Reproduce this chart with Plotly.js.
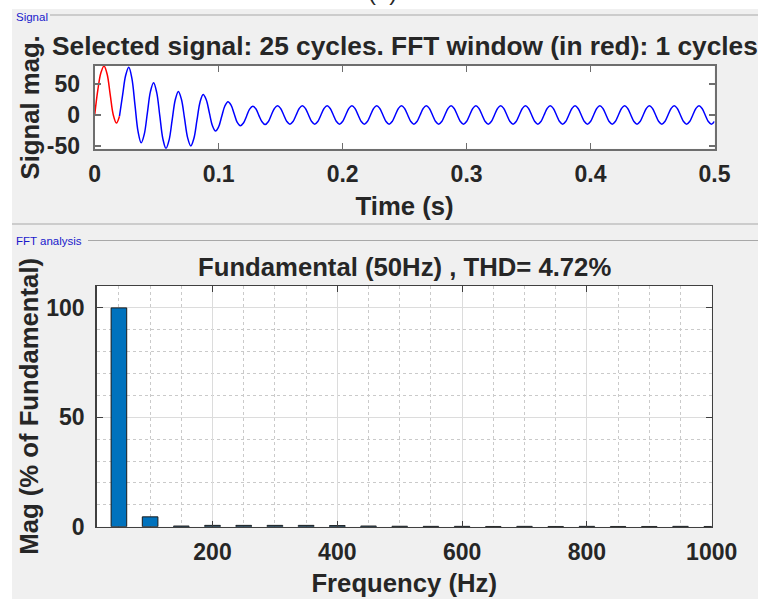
<!DOCTYPE html>
<html><head><meta charset="utf-8">
<script src="https://cdn.plot.ly/plotly-3.0.1.min.js"></script>
<style>html,body{margin:0;padding:0;background:#f0f0f0}#chart{width:758px;height:599px}</style>
</head><body><div id="chart"></div>
<script>
const sampleStep = 0.0025;          // s between readings
const redStart = 0;                  // FFT window (red) starts at t = 0 s
const redV = [0, 40, 68, 79, 66, 33, 0, -13, -2];
const blueStart = 0.02;              // rest of the signal (blue) from t = 0.02 s
const blueV = [
  -2, 32, 64, 77, 59, 16, -27, -45,
  -31, 3.5, 38, 52, 36.5, -1, -38.5, -54,
  -40.5, -8, 24.5, 38, 25, -6, -37, -50,
  -38, -8.5, 21, 33, 24.5, 3.5, -17.5, -26,
  -19, -2, 14.5, 21.5, 16, 2, -12, -17.5,
  -13, -2, 9.5, 14, 10, -1, -11, -15.5,
  -11, 0,
  10.5, 15, 10.5, 0, -10.5, -15, -10.5, 0,
  10.5, 15, 10.5, 0, -10.5, -15, -10.5, 0,
  10.5, 15, 10.5, 0, -10.5, -15, -10.5, 0,
  10.5, 15, 10.5, 0, -10.5, -15, -10.5, 0,
  10.5, 15, 10.5, 0, -10.5, -15, -10.5, 0,
  10.5, 15, 10.5, 0, -10.5, -15, -10.5, 0,
  10.5, 15, 10.5, 0, -10.5, -15, -10.5, 0,
  10.5, 15, 10.5, 0, -10.5, -15, -10.5, 0,
  10.5, 15, 10.5, 0, -10.5, -15, -10.5, 0,
  10.5, 15, 10.5, 0, -10.5, -15, -10.5, 0,
  10.5, 15, 10.5, 0, -10.5, -15, -10.5, 0,
  10.5, 15, 10.5, 0, -10.5, -15, -10.5, 0,
  10.5, 15, 10.5, 0, -10.5, -15, -10.5, 0,
  10.5, 15, 10.5, 0, -10.5, -15, -10.5, 0,
  10.5, 15, 10.5, 0, -10.5, -15, -10.5, 0,
  10.5, 15, 10.5, 0, -10.5, -15, -10.5, 0,
  10.5, 15, 10.5, 0, -10.5, -15, -10.5, 0,
  10.5, 15, 10.5, 0, -10.5, -15, -10.5
];
const sigTickVals = [-50, 0, 50];
const sigTickText = ['-50', '0', '50'];

// ---- FFT analysis (harmonic spectrum) ----
const freqHz = [50, 100, 150, 200, 250, 300, 350, 400, 450, 500, 550, 600, 650, 700, 750, 800, 850, 900, 950, 1000];
const magPct = [100, 4.5, 0.3, 0.6, 0.6, 0.6, 0.6, 0.5, 0.3, 0.2, 0.15, 0.15, 0.1, 0.15, 0.1, 0.15, 0.1, 0.1, 0.15, 0.1];

const topTitle = 'Selected signal: 25 cycles. FFT window (in red): 1 cycles';
const fftTitle = 'Fundamental (50Hz) , THD= 4.72%';

const FONT = '"Liberation Sans", Arial, Helvetica, sans-serif';
const TXT = '#262626';
const W = 758, H = 599;
const px = v => v / W;
const py = v => (H - v) / H;

const traces = [
  {y: blueV, x0: blueStart, dx: sampleStep, type: 'scatter', mode: 'lines', line: {color: '#0000ff', width: 1.5, shape: 'spline', smoothing: 1}, xaxis: 'x', yaxis: 'y', hoverinfo: 'skip'},
  {y: redV, x0: redStart, dx: sampleStep, type: 'scatter', mode: 'lines', line: {color: '#ff0000', width: 1.5, shape: 'spline', smoothing: 1}, xaxis: 'x', yaxis: 'y', hoverinfo: 'skip'},
  {x: freqHz, y: magPct, type: 'bar', width: 25, marker: {color: '#0072bd', line: {color: '#1a1a1a', width: 1}}, xaxis: 'x2', yaxis: 'y2', hoverinfo: 'skip'}
];

const tickFont = {family: FONT, size: 23, color: TXT, weight: 'bold'};
const labFont = {family: FONT, size: 25.7, color: TXT, weight: 'bold'};

const layout = {
  width: W, height: H,
  margin: {l: 0, r: 0, t: 0, b: 0},
  paper_bgcolor: '#f0f0f0', plot_bgcolor: '#ffffff',
  showlegend: false,
  font: {family: FONT, color: TXT},
  xaxis: {
    domain: [px(94.7), px(714.5)], range: [0, 0.5], anchor: 'y',
    tickmode: 'linear', tick0: 0, dtick: 0.1,
    ticks: 'inside', ticklen: 6, tickwidth: 1.5, tickcolor: '#6e6e6e',
    showline: true, linecolor: '#6e6e6e', linewidth: 2, mirror: 'ticks',
    showgrid: false, zeroline: false,
    tickfont: tickFont, ticklabelstandoff: 4,
    title: {text: 'Time (s)', font: labFont, standoff: 11}
  },
  yaxis: {
    domain: [py(148.7), py(66)], range: [-54.4, 79], anchor: 'x',
    tickmode: 'array', tickvals: sigTickVals, ticktext: sigTickText,
    ticks: 'inside', ticklen: 6, tickwidth: 1.5, tickcolor: '#6e6e6e',
    showline: true, linecolor: '#6e6e6e', linewidth: 2, mirror: 'ticks',
    showgrid: false, zeroline: false,
    tickfont: tickFont, ticklabelstandoff: 8,
    title: {text: 'Signal mag.', font: labFont, standoff: 0}
  },
  xaxis2: {
    domain: [px(96.7), px(711.7)], range: [14.4, 1000], anchor: 'y2',
    tickmode: 'linear', tick0: 0, dtick: 200,
    ticks: 'inside', ticklen: 6, tickcolor: '#404040',
    showline: true, linecolor: '#404040', linewidth: 1.5, mirror: 'ticks',
    showgrid: true, gridcolor: '#dcdcdc', gridwidth: 1, zeroline: false,
    minor: {tickmode: 'linear', tick0: 0, dtick: 50, showgrid: true, gridcolor: '#cacaca', griddash: 'dot', gridwidth: 1, ticks: ''},
    tickfont: tickFont, ticklabelstandoff: 4,
    title: {text: 'Frequency (Hz)', font: labFont, standoff: 10}
  },
  yaxis2: {
    domain: [py(526.7), py(286)], range: [0, 110], anchor: 'x2',
    tickmode: 'linear', tick0: 0, dtick: 50,
    ticks: 'inside', ticklen: 6, tickcolor: '#404040',
    showline: true, linecolor: '#404040', linewidth: 1.5, mirror: 'ticks',
    showgrid: true, gridcolor: '#dcdcdc', gridwidth: 1, zeroline: false,
    minor: {tickmode: 'linear', tick0: 0, dtick: 10, showgrid: true, gridcolor: '#cacaca', griddash: 'dot', gridwidth: 1, ticks: ''},
    tickfont: tickFont, ticklabelstandoff: 6,
    title: {text: 'Mag (% of Fundamental)', font: labFont, standoff: 0}
  },
  shapes: [
    {type: 'rect', xref: 'paper', yref: 'paper', x0: 0, x1: px(12), y0: 0, y1: 1, fillcolor: '#ffffff', line: {width: 0}, layer: 'below'},
    {type: 'rect', xref: 'paper', yref: 'paper', x0: 0, x1: 1, y0: py(9), y1: 1, fillcolor: '#ffffff', line: {width: 0}, layer: 'below'},
    {type: 'line', xref: 'paper', yref: 'paper', x0: px(50), x1: 1, y0: py(15), y1: py(15), line: {color: '#a8a8a8', width: 1}},
    {type: 'line', xref: 'paper', yref: 'paper', x0: px(12), x1: 1, y0: py(224), y1: py(224), line: {color: '#a8a8a8', width: 1}},
    {type: 'line', xref: 'paper', yref: 'paper', x0: px(88), x1: 1, y0: py(240.5), y1: py(240.5), line: {color: '#a8a8a8', width: 1}}
  ],
  annotations: [
    {text: topTitle, xref: 'paper', yref: 'paper', x: px(404.6), y: py(46), xanchor: 'center', yanchor: 'middle', showarrow: false, font: {family: FONT, size: 26.3, color: TXT, weight: 'bold'}},
    {text: fftTitle, xref: 'paper', yref: 'paper', x: px(404.2), y: py(267), xanchor: 'center', yanchor: 'middle', showarrow: false, font: labFont},
    {text: 'Signal', xref: 'paper', yref: 'paper', x: px(14), y: py(16.5), xanchor: 'left', yanchor: 'middle', showarrow: false, font: {family: FONT, size: 11.5, color: '#1a1acc'}},
    {text: 'FFT analysis', xref: 'paper', yref: 'paper', x: px(14), y: py(241), xanchor: 'left', yanchor: 'middle', showarrow: false, font: {family: FONT, size: 11.5, color: '#1a1acc'}},
    {text: '(b)', xref: 'paper', yref: 'paper', x: px(382), y: py(7), xanchor: 'center', yanchor: 'bottom', showarrow: false, font: {family: FONT, size: 24, color: TXT}}
  ]
};

Plotly.newPlot('chart', traces, layout, {staticPlot: true, displayModeBar: false});
</script>
</body></html>
